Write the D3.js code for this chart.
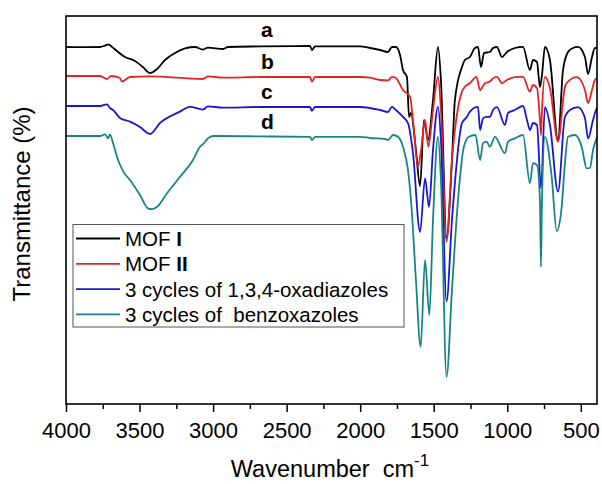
<!DOCTYPE html>
<html>
<head>
<meta charset="utf-8">
<script src="https://d3js.org/d3.v7.min.js"></script>
<style>
  body { margin: 0; background: #fff; }
  svg text { font-family: "Liberation Sans", Arial, sans-serif; fill: #000; }
</style>
</head>
<body>
<svg id="chart" width="602" height="484"></svg>
<script>
// spectra: [wavenumber cm-1, transmittance (arbitrary, stacked)]
var mofI = [[4000,89.25],[3905,89.2],[3769,89.25],[3735,89.6],[3714,89.9],[3687,89.25],[3646,88.0],[3599,86.75],
  [3531,85.75],[3477,84.25],[3429,82.75],[3381,83.75],[3327,86.0],[3259,87.75],[3191,88.9],[3123,89.25],[3069,88.6],
  [3035,89.1],[2933,88.75],[2899,89.25],[2681,89.4],[2341,89.5],[2328,88.5],[2307,89.4],[2001,89.4],[1933,89.0],
  [1865,88.5],[1811,88.0],[1784,89.25],[1757,89.25],[1729,87.25],[1709,83.5],[1682,81.75],[1668,71.75],[1655,72.75],
  [1621,63.5],[1593,54.5],[1566,71.0],[1539,66.0],[1505,76.0],[1471,89.25],[1451,81.0],[1413,41.5],[1376,61.0],
  [1356,76.0],[1308,84.25],[1288,86.0],[1254,86.75],[1220,89.0],[1199,89.25],[1179,84.25],[1158,87.75],[1118,88.0],
  [1097,89.0],[1070,89.25],[1036,86.75],[1002,88.0],[948,89.0],[893,89.3],[846,83.5],[825,86.0],[798,85.5],
  [778,79.25],[764,82.25],[744,89.25],[710,86.0],[655,66.0],[621,83.5],[587,88.0],[553,89.0],[519,89.3],
  [472,86.75],[451,82.5],[424,86.75],[404,89.0],[390,89.0]];

var mofII = [[4000,82.0],[3769,82.0],[3721,81.25],[3694,82.0],[3633,81.5],[3620,80.6],[3565,81.75],[3429,81.9],
  [3069,81.25],[3035,81.9],[2933,81.6],[2681,81.75],[2341,81.75],[2328,80.6],[2307,81.75],[2001,81.75],[1933,81.6],
  [1865,81.0],[1811,80.9],[1784,81.8],[1757,81.5],[1709,78.5],[1661,76.8],[1641,71.0],[1607,59.3],[1586,63.5],
  [1559,71.0],[1537,64.3],[1505,73.5],[1471,81.8],[1451,73.5],[1413,40.6],[1376,61.0],[1308,78.1],[1288,79.3],
  [1254,80.2],[1210,81.8],[1185,78.5],[1152,80.2],[1118,80.6],[1097,81.4],[1070,81.8],[1036,80.2],[1002,81.0],
  [948,81.7],[893,81.8],[846,78.1],[825,79.75],[798,79.0],[778,71.0],[771,67.25],[764,73.5],[744,81.8],
  [710,79.0],[655,65.6],[608,79.3],[587,80.6],[528,81.7],[472,78.5],[451,75.25],[424,78.5],[404,81.0],[390,81.5]];

var oxadiazoles = [[4000,74.5],[3769,74.5],[3721,74.9],[3701,74.0],[3680,73.5],[3633,71.5],[3565,70.6],[3497,69.25],
  [3443,67.7],[3429,67.5],[3361,70.25],[3225,73.1],[3157,74.3],[3069,73.6],[3035,74.4],[2933,74.1],[2681,74.25],
  [2341,74.25],[2328,73.3],[2307,74.25],[2001,74.25],[1865,73.5],[1811,73.0],[1784,74.3],[1757,73.5],[1709,71.8],
  [1675,70.2],[1641,62.7],[1593,43.0],[1559,56.4],[1532,49.3],[1505,63.5],[1471,74.3],[1451,66.0],[1413,25.6],
  [1376,46.0],[1308,70.2],[1274,71.8],[1254,73.1],[1199,74.3],[1185,68.5],[1165,71.4],[1141,71.8],[1118,71.8],
  [1097,73.5],[1070,74.2],[1016,69.75],[995,72.75],[948,73.5],[893,74.5],[866,71.0],[846,68.5],[825,70.25],
  [798,69.75],[771,53.9],[744,74.2],[710,69.75],[655,53.1],[608,71.8],[574,73.5],[519,74.2],[472,71.5],
  [451,66.4],[417,71.0],[397,73.5],[390,74.0]];

var benzoxazoles = [[4000,67.0],[3769,67.0],[3735,67.4],[3714,66.4],[3701,67.4],[3680,65.2],[3646,61.0],[3610,58.1],
  [3565,56.0],[3497,52.25],[3443,48.9],[3415,48.7],[3381,49.3],[3313,52.7],[3225,56.8],[3137,61.0],[3089,64.3],
  [3062,65.2],[3035,66.4],[3001,67.0],[2681,66.9],[2341,66.8],[2328,66.0],[2307,66.8],[2001,66.8],[1933,66.5],
  [1831,66.25],[1811,66.0],[1776,67.25],[1743,66.8],[1709,64.3],[1675,58.5],[1653,50.25],[1621,31.0],[1589,14.3],
  [1559,36.0],[1530,22.25],[1505,46.0],[1471,66.8],[1451,56.0],[1413,6.8],[1376,28.5],[1335,51.0],[1295,64.3],
  [1261,66.8],[1216,67.25],[1185,61.0],[1165,65.2],[1141,65.6],[1118,64.3],[1084,66.8],[1016,62.7],[995,65.6],
  [948,66.4],[893,67.25],[846,55.2],[825,60.2],[798,59.75],[778,51.0],[771,34.3],[764,51.0],[744,66.8],
  [698,56.8],[664,43.25],[630,49.3],[608,60.2],[587,66.8],[540,67.25],[494,64.3],[460,58.9],[438,59.0],
  [417,63.5],[397,66.0],[390,66.75]];

var seriesData = [mofI, mofII, oxadiazoles, benzoxazoles];
var seriesColors = ["#000000", "#e42424", "#1818d2", "#178585"];
var curveLetters = ["a", "b", "c", "d"];
var legendNames = [["MOF ", "I"], ["MOF ", "II"], ["3 cycles of 1,3,4-oxadiazoles", ""], ["3 cycles of \u00a0benzoxazoles", ""]];
var majorTicks = [4000, 3500, 3000, 2500, 2000, 1500, 1000, 500];
var minorTicks = [3750, 3250, 2750, 2250, 1750, 1250, 750];

var svg = d3.select("#chart");
var mLeft = 66, mRight = 597, mTop = 16, mBottom = 404;

var x = d3.scaleLinear().domain([4000, 390]).range([mLeft, mRight]);
var y = d3.scaleLinear().domain([0, 97]).range([mBottom, mTop]);

// axis ticks
var xAxis = svg.append("g")
  .attr("transform", "translate(0," + mBottom + ")")
  .call(d3.axisBottom(x).tickValues(majorTicks).tickSize(8).tickPadding(10).tickFormat(d3.format("d")));
xAxis.select(".domain").remove();
xAxis.selectAll("text").style("font-size", "22px");
xAxis.selectAll("line").attr("stroke-width", 1.5);

var xMinor = svg.append("g")
  .attr("transform", "translate(0," + mBottom + ")")
  .call(d3.axisBottom(x).tickValues(minorTicks).tickSize(5).tickFormat(""));
xMinor.select(".domain").remove();
xMinor.selectAll("line").attr("stroke-width", 1.5);

// spectra
var line = d3.line()
  .x(function (d) { return x(d[0]); })
  .y(function (d) { return y(d[1]); })
  .curve(d3.curveMonotoneX);

svg.selectAll("path.spec")
  .data(seriesData)
  .enter().append("path")
  .attr("class", "spec")
  .attr("d", line)
  .attr("fill", "none")
  .attr("stroke", function (d, i) { return seriesColors[i]; })
  .attr("stroke-width", 1.8)
  .attr("stroke-linejoin", "round");

// frame
svg.append("rect")
  .attr("x", mLeft).attr("y", mTop)
  .attr("width", mRight - mLeft).attr("height", mBottom - mTop)
  .attr("fill", "none").attr("stroke", "#000").attr("stroke-width", 1.6);

// a b c d labels
var letterY = [37, 69, 99, 129];
svg.selectAll("text.letter")
  .data(curveLetters)
  .enter().append("text")
  .attr("class", "letter")
  .attr("x", 261)
  .attr("y", function (d, i) { return letterY[i]; })
  .style("font-size", "21px")
  .style("font-weight", "bold")
  .text(function (d) { return d; });

// legend
var lg = svg.append("g");
lg.append("rect")
  .attr("x", 73).attr("y", 224.5).attr("width", 331).attr("height", 102.5)
  .attr("fill", "#fff").attr("stroke", "#555").attr("stroke-width", 1);
legendNames.forEach(function (nm, i) {
  var ry = 238.5 + i * 25.3;
  lg.append("line")
    .attr("x1", 76).attr("x2", 120).attr("y1", ry).attr("y2", ry)
    .attr("stroke", seriesColors[i]).attr("stroke-width", 1.8);
  var t = lg.append("text")
    .attr("x", 125).attr("y", ry + 7.5)
    .style("font-size", "20.5px");
  t.append("tspan").text(nm[0]);
  if (nm[1]) t.append("tspan").style("font-weight", "bold").text(nm[1]);
});

// axis titles
var xt = svg.append("text")
  .attr("x", 330).attr("y", 477)
  .attr("text-anchor", "middle")
  .style("font-size", "23.5px");
xt.append("tspan").text("Wavenumber \u00a0cm");
xt.append("tspan").attr("dy", -11).style("font-size", "17px").text("-1");

svg.append("text")
  .attr("transform", "translate(30,204) rotate(-90)")
  .attr("text-anchor", "middle")
  .style("font-size", "24px")
  .text("Transmittance (%)");
</script>
</body>
</html>
